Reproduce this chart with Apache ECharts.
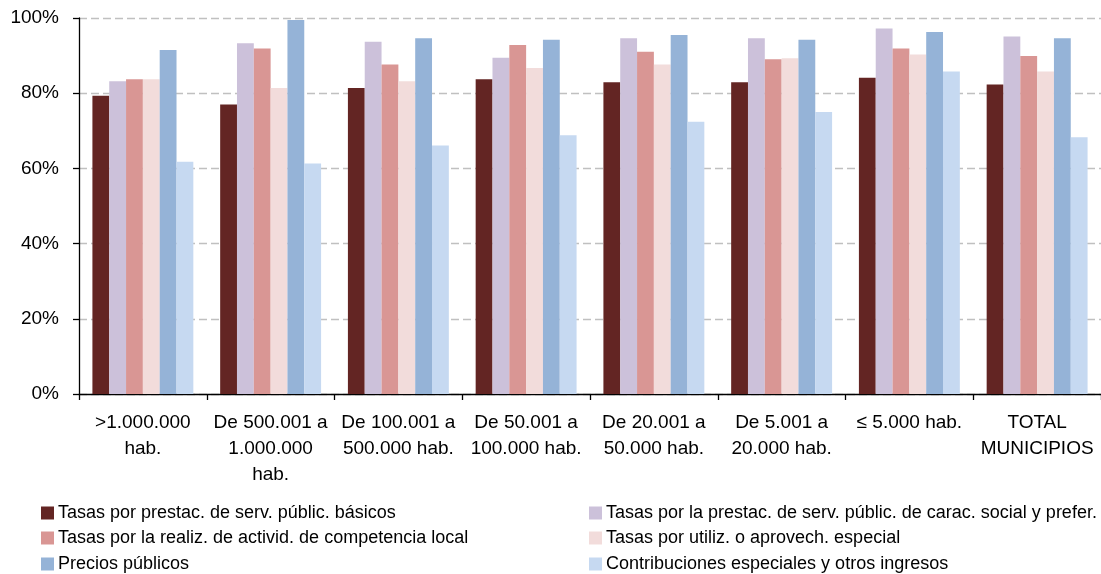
<!DOCTYPE html>
<html><head><meta charset="utf-8">
<script src="https://cdn.jsdelivr.net/npm/echarts@6/dist/echarts.min.js"></script>
<style>html,body{margin:0;padding:0;background:#fff}#c{width:1101px;height:574px}</style>
</head><body><div id="c"></div>
<script>
var categories = [">1.000.000\nhab.", "De 500.001 a\n1.000.000\nhab.", "De 100.001 a\n500.000 hab.", "De 50.001 a\n100.000 hab.", "De 20.001 a\n50.000 hab.", "De 5.001 a\n20.000 hab.", "≤ 5.000 hab.", "TOTAL\nMUNICIPIOS"];
var seriesNames = ["Tasas por prestac. de serv. públic. básicos", "Tasas por la prestac. de serv. públic. de carac. social y prefer.", "Tasas por la realiz. de activid. de competencia local", "Tasas por utiliz. o aprovech. especial", "Precios públicos", "Contribuciones especiales y otros ingresos"];
var basicos      = [79.3, 77.0, 81.4, 83.7, 82.9, 82.9, 84.1, 82.3];
var social       = [83.2, 93.3, 93.7, 89.4, 94.6, 94.6, 97.2, 95.1];
var competencia  = [83.7, 91.9, 87.6, 92.8, 91.0, 89.0, 91.9, 89.9];
var utilizacion  = [83.7, 81.4, 83.2, 86.7, 87.6, 89.3, 90.3, 85.8];
var precios      = [91.5, 99.5, 94.6, 94.2, 95.5, 94.2, 96.3, 94.6];
var contrib      = [61.8, 61.3, 66.1, 68.8, 72.4, 75.0, 85.8, 68.3];
var yTicks = [0, 20, 40, 60, 80, 100];
var colors = ["#632523", "#CCC1DA", "#D99694", "#F2DCDB", "#95B3D7", "#C6D9F1"];

var allData = [basicos, social, competencia, utilizacion, precios, contrib];
var font = "'Liberation Sans', Arial, sans-serif";
var legendPos = [[36,499],[584,499],[36,524],[584,524],[36,550],[584,550]];
var legends = seriesNames.map(function(n,i){
  return {data:[n], left:legendPos[i][0], top:legendPos[i][1], itemWidth:13, itemHeight:13, itemGap:5,
    icon:'rect', textStyle:{fontFamily:font, fontSize:18, color:'#000', padding:[0,0,0,-1]}, selectedMode:false};
});
var chart = echarts.init(document.getElementById('c'), null, {renderer:'canvas'});
chart.setOption({
  animation:false,
  color: colors,
  legend: legends,
  grid:{left:79, right:0, top:18, bottom:180, containLabel:false},
  xAxis:{type:'category', data:categories,
    axisLine:{lineStyle:{color:'#000', width:1.3}},
    axisTick:{show:true, length:6, lineStyle:{color:'#000', width:1.3}},
    axisLabel:{interval:0, fontFamily:font, fontSize:19, color:'#000', lineHeight:26, margin:16}},
  yAxis:{type:'value', min:yTicks[0], max:yTicks[yTicks.length-1], interval:20,
    axisLine:{show:true, lineStyle:{color:'#000', width:1.3}},
    axisTick:{show:true, length:6, lineStyle:{color:'#000', width:1.3}},
    axisLabel:{fontFamily:font, fontSize:19, color:'#000', margin:20, formatter:'{value}%'},
    splitLine:{show:true, lineStyle:{color:'#c0c0c0', width:1.3, type:[8,4]}}},
  series: allData.map(function(d,i){
    return {name:seriesNames[i], type:'bar', data:d, barGap:'0%', barCategoryGap:'21%'};
  })
});
</script></body></html>
